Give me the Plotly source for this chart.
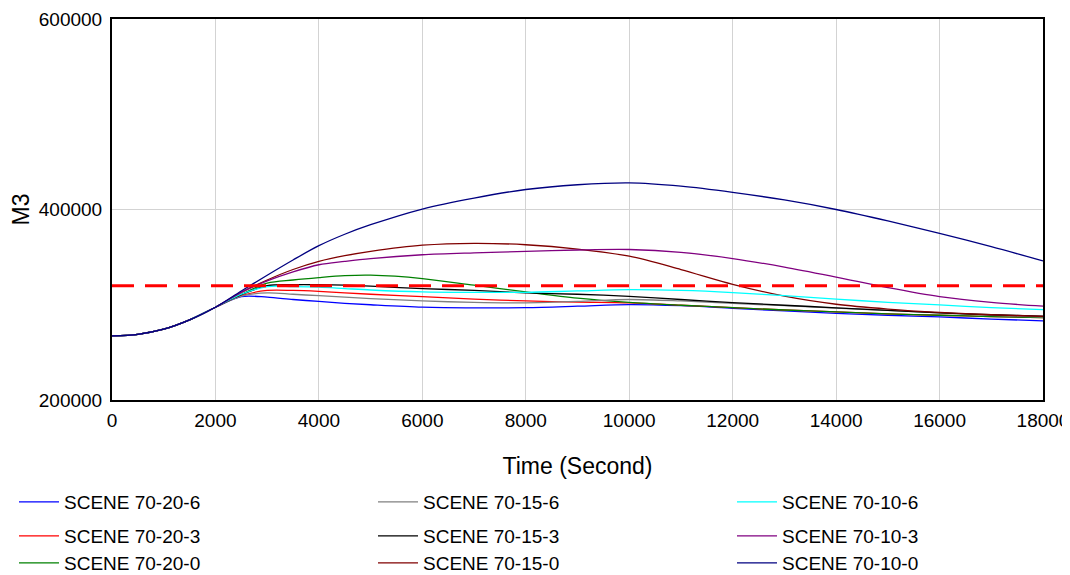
import plotly.graph_objects as go

time_s = [0, 500, 1000, 1500, 2000, 2500, 3000, 3500, 4000, 4500, 5000, 6000, 7000, 8000,
          9000, 10000, 11000, 12000, 13000, 14000, 15000, 16000, 17000, 18000]

rise = [267300, 269000, 274300, 284100, 297400]

s70_20_6 = rise + [308500, 308000, 305500, 303500, 301500, 300000, 297500, 296800, 297000,
                   298500, 300200, 299000, 296200, 293500, 291000, 289000, 287200, 285000, 283000]
s70_15_6 = rise + [309000, 312500, 311000, 309500, 308000, 306500, 304000, 302500, 302000,
                   303500, 305500, 304000, 301500, 299000, 296500, 294000, 291500, 289000, 287000]
s70_10_6 = rise + [311000, 319000, 319000, 318500, 317000, 315500, 313500, 313000, 313000,
                   314500, 315800, 315000, 312800, 309500, 306000, 302500, 299800, 297000, 294800]
s70_20_3 = rise + [309500, 315000, 315000, 314000, 312500, 311000, 308500, 306000, 304000,
                   302800, 302000, 299500, 297000, 294500, 292500, 290500, 289000, 287500, 286500]
s70_15_3 = rise + [310500, 320000, 321000, 321000, 320500, 319500, 317000, 315000, 312500,
                   311000, 308800, 305500, 302300, 299500, 296800, 294000, 291500, 289500, 288000]
s70_10_3 = rise + [313000, 325000, 334500, 342000, 345500, 348500, 352500, 354500, 356000,
                   357500, 358000, 355000, 348500, 339500, 329000, 318000, 308500, 302500, 298500]
s70_20_0 = rise + [311000, 322700, 326000, 328500, 330500, 331000, 327500, 320500, 313500,
                   307000, 302500, 299500, 297000, 294500, 292500, 290500, 289000, 287500, 286500]
s70_15_0 = rise + [313000, 326000, 337000, 345500, 351500, 356000, 362500, 364500, 363000,
                   358500, 351000, 337000, 321500, 309000, 300500, 295500, 292000, 289500, 287800]
s70_10_0 = rise + [314500, 331000, 347000, 362000, 374000, 384000, 400500, 412000, 421000,
                   426000, 428000, 424500, 418000, 410000, 400000, 388000, 375000, 361000, 346000]

threshold_x = [0, 18000]
threshold_y = [320000, 320000]

names = ["SCENE 70-20-6", "SCENE 70-20-3", "SCENE 70-20-0",
         "SCENE 70-15-6", "SCENE 70-15-3", "SCENE 70-15-0",
         "SCENE 70-10-6", "SCENE 70-10-3", "SCENE 70-10-0"]
series = [s70_20_6, s70_20_3, s70_20_0, s70_15_6, s70_15_3, s70_15_0,
          s70_10_6, s70_10_3, s70_10_0]
colors = ["#0000ff", "#ff0000", "#008000", "#808080", "#000000", "#800000",
          "#00ffff", "#800080", "#000080"]

x_ticks = [0, 2000, 4000, 6000, 8000, 10000, 12000, 14000, 16000, 18000]
y_ticks = [200000, 400000, 600000]

FONT = "Liberation Sans, Arial, sans-serif"
FS = 19
# the page body adds an 8px offset; the figure extends a little past the window on the right
W, H = 1070, 567

# legend layout: 3 columns x 3 rows (container pixel positions)
col_x = [6, 365, 724]
row_y = [494, 528, 555]

fig = go.Figure()
legend_layouts = {}
for i, (name, ys, c) in enumerate(zip(names, series, colors)):
    col, row = divmod(i, 3)
    lid = "legend" if i == 0 else f"legend{i + 1}"
    fig.add_trace(go.Scatter(x=time_s, y=ys, name=name, mode="lines", legend=lid,
                             line=dict(color=c, width=1.3, shape="spline", smoothing=0.9)))
    legend_layouts[lid] = dict(orientation="h", xref="container", yref="container",
                               x=col_x[col] / W, xanchor="left",
                               y=1 - row_y[row] / H, yanchor="middle",
                               font=dict(family=FONT, size=FS, color="#000000"),
                               itemwidth=40, bgcolor="rgba(0,0,0,0)", borderwidth=0)

fig.add_trace(go.Scatter(x=threshold_x, y=threshold_y, mode="lines", showlegend=False,
                         line=dict(color="#ff0000", width=3, dash="22px,11px"),
                         hoverinfo="skip"))

fig.update_layout(
    width=W, height=H,
    paper_bgcolor="white", plot_bgcolor="white",
    margin=dict(l=104, r=35, t=11, b=175, autoexpand=False),
    font=dict(family=FONT, size=FS, color="#000000"),
    showlegend=True,
    **legend_layouts,
)

fig.update_xaxes(range=[0, 18000], tickvals=x_ticks, ticktext=[str(v) for v in x_ticks],
                 showgrid=True, gridcolor="#d3d3d3", gridwidth=1,
                 showline=True, linecolor="#000000", linewidth=2, mirror=True,
                 ticks="", zeroline=False, automargin=False,
                 ticklabeloverflow="allow", ticklabelstandoff=2,
                 title=dict(text="Time (Second)", standoff=28))
fig.update_yaxes(range=[200000, 600000], tickvals=y_ticks, ticktext=[str(v) for v in y_ticks],
                 showgrid=True, gridcolor="#d3d3d3", gridwidth=1,
                 showline=True, linecolor="#000000", linewidth=2, mirror=True,
                 ticks="", zeroline=False, automargin=False,
                 ticklabelstandoff=4,
                 title=dict(text="M3", standoff=4))

fig.write_html("out.html")
